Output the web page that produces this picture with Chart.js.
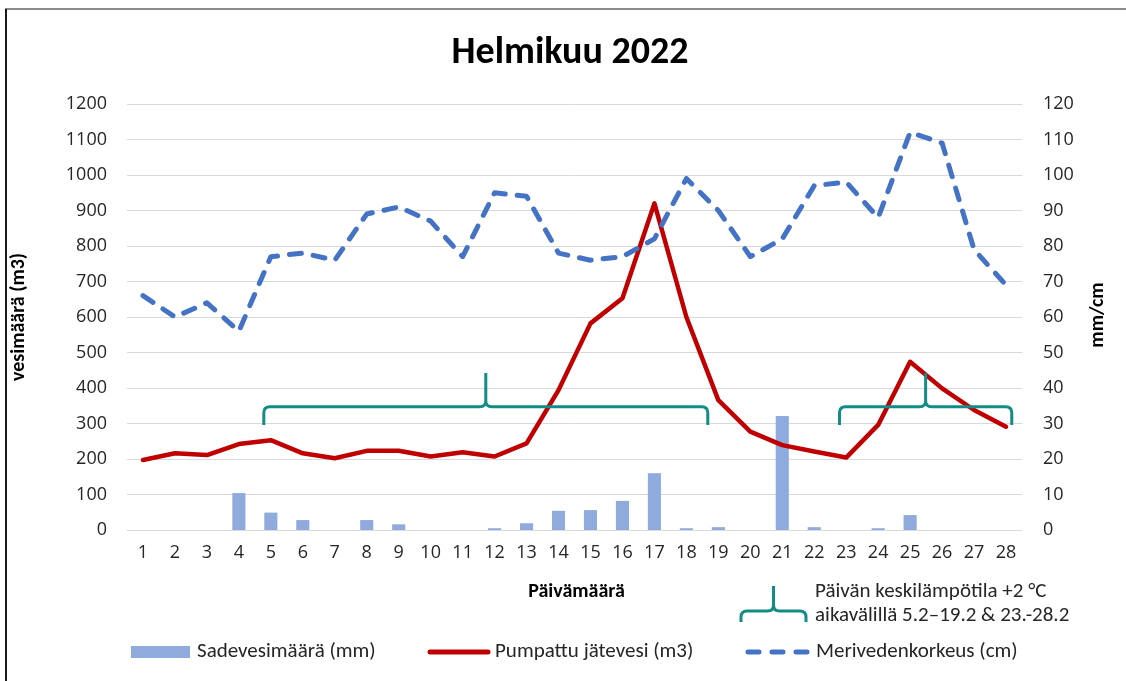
<!DOCTYPE html>
<html><head><meta charset="utf-8">
<script src="https://cdn.jsdelivr.net/npm/chart.js@4/dist/chart.umd.min.js"></script>
<style>
html,body{margin:0;padding:0;background:#fff;}
#wrap{position:relative;width:1126px;height:681px;overflow:hidden;}
#frameTop{position:absolute;left:5px;top:8px;width:1121px;height:2px;background:#8c8c8c;}
#frameLeft{position:absolute;left:5px;top:9px;width:2px;height:672px;background:#1a1a1a;}
</style></head>
<body><div id="wrap"><canvas id="c" width="1126" height="681"></canvas><div id="frameTop"></div><div id="frameLeft"></div></div>
<script>
// ---- data ----
const days = ['1','2','3','4','5','6','7','8','9','10','11','12','13','14','15','16','17','18','19','20','21','22','23','24','25','26','27','28'];
const rainMm = [0,0,0,10.4,4.9,2.8,0,2.8,1.6,0,0,0.5,1.9,5.4,5.6,8.2,16.0,0.5,0.8,0,32.1,0.8,0,0.5,4.2,0,0,0];
const pumpedM3 = [197,216,211,242,253,216,202,223,223,207,219,207,244,394,582,653,920,600,366,277,239,221,204,296,474,399,338,291];
const seaLevelCm = [66,60,64,56,77,78,76,89,91,87,77,95,94,78,76,77,82,99,90,77,82,97,98,88,112,109,79,69];
const leftTickMax = 1200, leftTickStep = 100;
const rightTickMax = 120, rightTickStep = 10;
// temperature periods (+2 °C): 5.2–19.2 and 23.–28.2, shown as braces
const braceFromDay = [4.78, 22.79];
const braceToDay = [18.67, 28.18];

const titleText = 'Helmikuu 2022';
const yLeftTitle = 'vesimäärä (m3)';
const yRightTitle = 'mm/cm';
const xTitle = 'Päivämäärä';
const seriesNames = ['Sadevesimäärä (mm)', 'Pumpattu jätevesi (m3)', 'Merivedenkorkeus (cm)'];
const braceLegend = ['Päivän keskilämpötila +2 °C', 'aikavälillä 5.2–19.2 & 23.-28.2'];

// ---- styles ----
const BAR = '#8FAADC', RED = '#C00000', BLUE = '#4472C4', TEAL = '#138C86';
const TXT = '#262626';
const CAL = 'Carlito, Lato, sans-serif';
const TICKF = "'Open Sans', sans-serif";

function drawBrace(ctx, x1, x2, yMid, yEnd, yTip, r) {
  const xm = (x1 + x2) / 2;
  ctx.beginPath();
  ctx.moveTo(x1, yEnd);
  ctx.lineTo(x1, yMid + r);
  ctx.quadraticCurveTo(x1, yMid, x1 + r, yMid);
  ctx.lineTo(xm - r, yMid);
  ctx.quadraticCurveTo(xm, yMid, xm, yMid - r);
  ctx.lineTo(xm, yTip);
  ctx.moveTo(xm, yMid - r);
  ctx.quadraticCurveTo(xm, yMid, xm + r, yMid);
  ctx.lineTo(x2 - r, yMid);
  ctx.quadraticCurveTo(x2, yMid, x2, yMid + r);
  ctx.lineTo(x2, yEnd);
  ctx.stroke();
}

const decor = {
  id: 'decor',
  afterDatasetsDraw(chart) {
    const ctx = chart.ctx, xs = chart.scales.x, ys = chart.scales.y1;
    ctx.save();
    ctx.strokeStyle = TEAL; ctx.lineWidth = 3; ctx.lineCap = 'butt'; ctx.lineJoin = 'round';
    for (let i = 0; i < braceFromDay.length; i++) {
      const x1 = xs.getPixelForValue(braceFromDay[i] - 1);
      const x2 = xs.getPixelForValue(braceToDay[i] - 1);
      drawBrace(ctx, x1, x2, ys.getPixelForValue(34.7), ys.getPixelForValue(29.6), ys.getPixelForValue(44.2), 6);
    }
    ctx.restore();
  },
  afterDraw(chart) {
    const ctx = chart.ctx, a = chart.chartArea;
    ctx.save();
    ctx.fillStyle = '#000';
    ctx.textBaseline = 'middle';
    // title
    ctx.textAlign = 'center';
    ctx.font = 'bold 38px ' + CAL;
    ctx.fillText(titleText, 570, 53);
    // axis titles
    ctx.font = 'bold 20px ' + CAL;
    ctx.fillText(xTitle, (a.left + a.right) / 2 + 2, 592);
    ctx.save(); ctx.translate(19, (a.top + a.bottom) / 2); ctx.rotate(-Math.PI / 2);
    ctx.fillText(yLeftTitle, 0, 0); ctx.restore();
    ctx.save(); ctx.translate(1098, (a.top + a.bottom) / 2 - 2); ctx.rotate(-Math.PI / 2);
    ctx.fillText(yRightTitle, 0, 0); ctx.restore();
    // brace legend
    ctx.strokeStyle = TEAL; ctx.lineWidth = 3;
    drawBrace(ctx, 741, 806, 611, 622, 586, 6);
    ctx.fillStyle = TXT; ctx.textAlign = 'left'; ctx.font = '21px ' + CAL;
    ctx.fillText(braceLegend[0], 815, 592);
    ctx.fillText(braceLegend[1], 815, 616);
    // series legend
    const ly = 652;
    ctx.fillStyle = BAR; ctx.fillRect(131, ly - 6, 59, 12);
    ctx.lineCap = 'round';
    ctx.strokeStyle = RED; ctx.lineWidth = 5; ctx.setLineDash([]);
    ctx.beginPath(); ctx.moveTo(430, ly); ctx.lineTo(488, ly); ctx.stroke();
    ctx.strokeStyle = BLUE; ctx.setLineDash([11, 13]);
    ctx.beginPath(); ctx.moveTo(748, ly); ctx.lineTo(807, ly); ctx.stroke();
    ctx.setLineDash([]);
    ctx.fillStyle = TXT; ctx.font = '21px ' + CAL;
    ctx.fillText(seriesNames[0], 197, ly);
    ctx.fillText(seriesNames[1], 495, ly);
    ctx.fillText(seriesNames[2], 816, ly);
    ctx.restore();
  }
};

new Chart(document.getElementById('c'), {
  data: {
    labels: days,
    datasets: [
      { type: 'line', label: seriesNames[2], data: seaLevelCm, yAxisID: 'y1', order: 1,
        borderColor: BLUE, borderWidth: 5, borderDash: [12, 12], borderCapStyle: 'round', borderJoinStyle: 'round',
        pointRadius: 0, tension: 0, fill: false },
      { type: 'line', label: seriesNames[1], data: pumpedM3, yAxisID: 'y', order: 2,
        borderColor: RED, borderWidth: 4.5, borderCapStyle: 'round', borderJoinStyle: 'round',
        pointRadius: 0, tension: 0, fill: false },
      { type: 'bar', label: seriesNames[0], data: rainMm, yAxisID: 'y1', order: 3,
        backgroundColor: BAR, barPercentage: 0.41, categoryPercentage: 1 }
    ]
  },
  options: {
    responsive: false, animation: false, devicePixelRatio: 1,
    layout: { padding: { top: 104, left: 0, right: 0, bottom: 0 } },
    plugins: { legend: { display: false }, tooltip: { enabled: false }, title: { display: false } },
    scales: {
      x: { type: 'category', offset: true,
        grid: { display: false, drawTicks: false }, border: { display: false },
        ticks: { color: TXT, font: { family: TICKF, size: 18 }, padding: 12, maxRotation: 0, autoSkip: false },
        afterFit(s) { s.height = 151; } },
      y: { type: 'linear', position: 'left', min: 0, max: leftTickMax,
        grid: { color: '#D9D9D9', lineWidth: 1, drawTicks: false }, border: { display: false },
        ticks: { stepSize: leftTickStep, color: TXT, font: { family: TICKF, size: 18 }, padding: 20,
          callback: (v) => String(v) },
        afterFit(s) { s.width = 127; } },
      y1: { type: 'linear', position: 'right', min: 0, max: rightTickMax,
        grid: { display: false, drawTicks: false }, border: { display: false },
        ticks: { stepSize: rightTickStep, color: TXT, font: { family: TICKF, size: 18 }, padding: 21,
          callback: (v) => String(v) },
        afterFit(s) { s.width = 104; } }
    }
  },
  plugins: [decor]
});
</script>
</body></html>
